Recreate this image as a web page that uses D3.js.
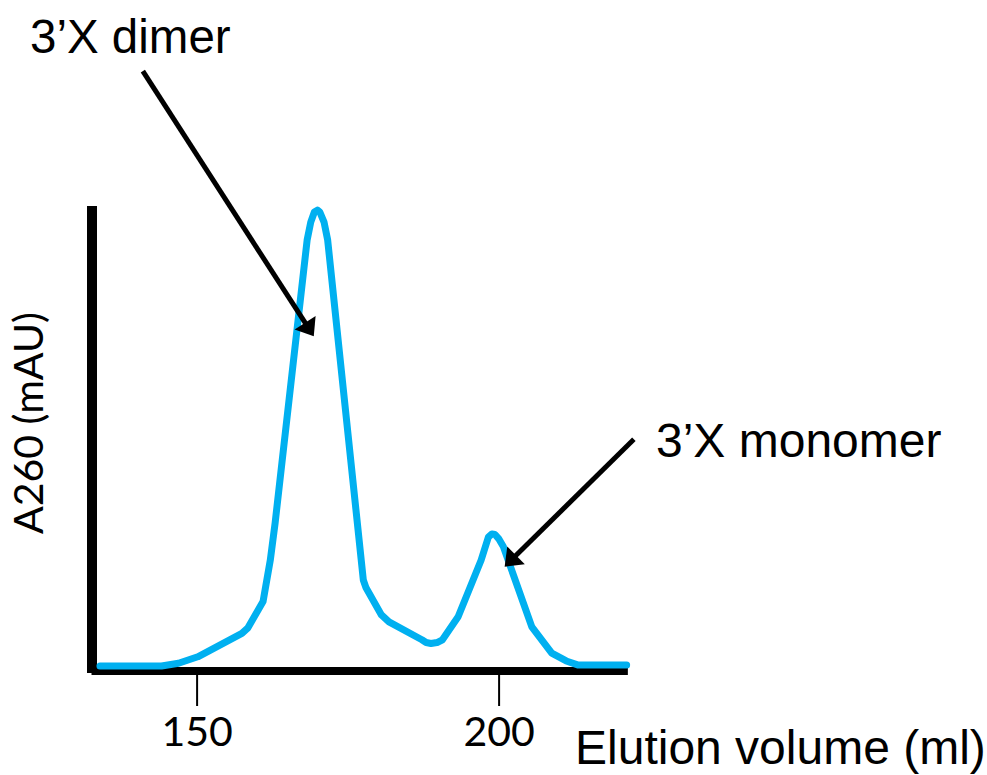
<!DOCTYPE html>
<html>
<head>
<meta charset="utf-8">
<script src="https://cdn.jsdelivr.net/npm/d3@7"></script>
<style>
  html, body { margin: 0; padding: 0; background: #fff; }
  svg { display: block; }
</style>
</head>
<body>
<svg id="chart" width="987" height="775"></svg>
<script>
// Size-exclusion elution profile (A260) of the 3'X construct
const volume = [134.0, 144.2, 147.0, 150.2, 157.5, 158.5, 161.0, 162.2, 163.0, 168.3, 168.9, 169.5,
  170.0, 170.4, 171.1, 171.7, 177.6, 178.05, 180.6, 181.85, 187.3, 188.0, 188.8, 189.8, 190.7, 193.3,
  197.1, 198.3, 198.9, 199.4, 200.0, 200.8, 205.5, 208.8, 211.2, 213.2, 221.2];
const absorbance = [0, 0, 0.6, 2.0, 7.1, 8.3, 14.0, 23.0, 31.1, 92.6, 96.5, 98.7,
  99.1, 98.7, 96.5, 92.6, 18.7, 17.0, 11.1, 9.6, 5.7, 5.1, 4.9, 5.1, 5.7, 10.7,
  23.0, 28.0, 28.7, 28.6, 27.7, 25.9, 8.5, 2.8, 1.1, 0.2, 0.2];

const xTicks = [150, 200];
const xExtent = [132.6, 221.4];
const yExtent = [0, 100];

// Annotations: label, arrow tail and arrow tip in data units
const peakLabels = ["3\u2019X dimer", "3\u2019X monomer"];
const arrowTail = [[141.1, 129.3], [222.4, 49.3]];
const arrowTip = [[169.4, 71.7], [201.0, 21.6]];

const svg = d3.select("#chart");

const x = d3.scaleLinear().domain([150, 200]).range([196.6, 498.6]);
const y = d3.scaleLinear().domain([0, 100]).range([666, 206]);
const axisY = 671;

// Trace: straight segments with rounded joins
const line = d3.line()
  .x((d, i) => x(volume[i]))
  .y((d, i) => y(absorbance[i]))
  .curve(d3.curveLinear);

// Axes
const xAxis = d3.axisBottom(x).tickValues(xTicks).tickSize(35).tickSizeOuter(0).tickFormat(d3.format("d"));
const gx = svg.append("g").attr("transform", `translate(0,${axisY})`).call(xAxis);
gx.select(".domain").remove();
gx.selectAll(".tick line").attr("stroke", "#000").attr("stroke-width", 2);
gx.selectAll(".tick text")
  .attr("y", 75).attr("dy", null)
  .attr("fill", "#000")
  .style("font-family", "Lato, 'Open Sans', sans-serif")
  .style("font-size", "41px");

svg.append("line")
  .attr("x1", x(xExtent[0])).attr("x2", x(xExtent[1]))
  .attr("y1", axisY).attr("y2", axisY)
  .attr("stroke", "#000").attr("stroke-width", 8);

svg.append("line")
  .attr("x1", x(xExtent[0]) + 0.5).attr("x2", x(xExtent[0]) + 0.5)
  .attr("y1", y(yExtent[1])).attr("y2", axisY + 2)
  .attr("stroke", "#000").attr("stroke-width", 10);

svg.append("path")
  .attr("d", line(volume))
  .attr("fill", "none")
  .attr("stroke", "#00B0F0")
  .attr("stroke-width", 7)
  .attr("stroke-linejoin", "round")
  .attr("stroke-linecap", "round");

// Arrows pointing at the peaks
const headLen = 16, headHalf = 12.5;
arrowTail.forEach((t, i) => {
  const x0 = x(t[0]), y0 = y(t[1]);
  const x1 = x(arrowTip[i][0]), y1 = y(arrowTip[i][1]);
  const len = Math.hypot(x1 - x0, y1 - y0);
  const ux = (x1 - x0) / len, uy = (y1 - y0) / len;
  const bx = x1 - ux * headLen, by = y1 - uy * headLen;
  svg.append("line")
    .attr("x1", x0).attr("y1", y0)
    .attr("x2", bx + ux * 2).attr("y2", by + uy * 2)
    .attr("stroke", "#000").attr("stroke-width", 5);
  svg.append("path")
    .attr("d", `M${x1},${y1}L${bx - uy * headHalf},${by + ux * headHalf}L${bx + uy * headHalf},${by - ux * headHalf}Z`)
    .attr("fill", "#000");
});

// Text labels
const labelFont = "'Liberation Sans', Arial, sans-serif";
svg.append("text")
  .attr("x", 30).attr("y", 53)
  .style("font-family", labelFont).style("font-size", "47.5px")
  .text(peakLabels[0]);
svg.append("text")
  .attr("x", 656).attr("y", 457)
  .style("font-family", labelFont).style("font-size", "48px")
  .text(peakLabels[1]);
svg.append("text")
  .attr("x", 575).attr("y", 764)
  .style("font-family", labelFont).style("font-size", "48px")
  .text("Elution volume (ml)");
svg.append("text")
  .attr("transform", "translate(43,423) rotate(-90)")
  .attr("text-anchor", "middle")
  .style("font-family", "Lato, 'Open Sans', sans-serif").style("font-size", "41px")
  .text("A260 (mAU)");
</script>
</body>
</html>
